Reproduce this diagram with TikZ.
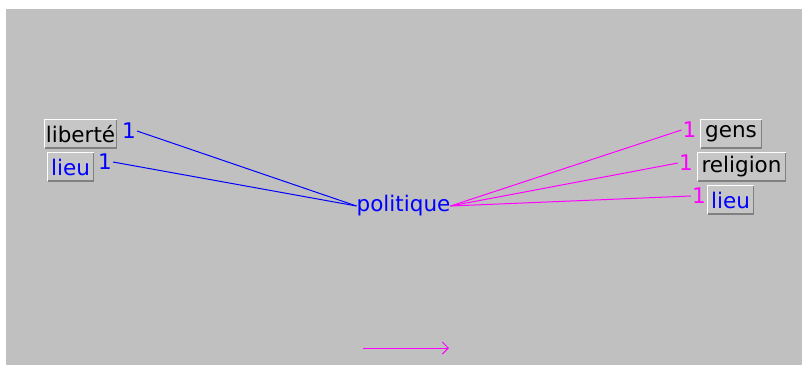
\documentclass[tikz,border=0pt]{standalone}
\usepackage{fontspec}
\setmainfont{DejaVu Sans}
\usetikzlibrary{arrows.meta}
\definecolor{panel}{HTML}{C0C0C0}
\definecolor{boxfill}{HTML}{C6C6C6}
\definecolor{edgedark}{HTML}{808080}
\definecolor{pblue}{HTML}{0000FF}
\definecolor{pmag}{HTML}{FF00FF}
\begin{document}
\begin{tikzpicture}[x=1pt,y=-1pt,
  every node/.style={font=\fontsize{21.5}{24}\selectfont},
  word/.style={fill=boxfill,inner sep=0pt,minimum height=29pt},
  count/.style={inner sep=1pt},
  link/.style={line width=1pt}]
  \useasboundingbox (0,0) rectangle (802,365);
  \fill[panel] (6,9) rectangle (802,365);

  % central term
  \node[inner sep=0pt,text=pblue] (pol) at (403.5,206) {politique};

  % left-hand associations
  \node[word,minimum width=73pt] (liberte) at (80.5,134) {liberté};
  \node[word,minimum width=47pt,text=pblue] (lieuL) at (70.5,167) {lieu};
  \node[count,text=pblue] (nLib) at (129,131) {1};
  \node[count,text=pblue] (nLieuL) at (105,162) {1};

  % right-hand associations
  \node[word,minimum width=62pt] (gens) at (731,134) {gens};
  \node[word,minimum width=89pt] (religion) at (741.5,167) {religion};
  \node[word,minimum width=47pt,text=pblue] (lieuR) at (730.5,200) {lieu};
  \node[count,text=pmag] (nGens) at (689.5,130) {1};
  \node[count,text=pmag] (nRel) at (686,163) {1};
  \node[count,text=pmag] (nLieuR) at (699,196) {1};

  % bevelled edges of the word boxes
  \foreach \b in {liberte,lieuL,gens,religion,lieuR}{
    \draw[white,line width=1pt] ([shift={(0.5,-0.5)}]\b.south west) |- ([shift={(-0.5,0.5)}]\b.north east);
    \draw[edgedark,line width=1.5pt] ([shift={(0.75,-0.75)}]\b.south west) -| ([shift={(-0.75,0.75)}]\b.north east);
  }

  % connectors
  \draw[link,pblue] (nLib.east) -- (pol.west);
  \draw[link,pblue] (nLieuL.east) -- (pol.west);
  \draw[link,pmag] (pol.east) -- (nGens.west);
  \draw[link,pmag] (pol.east) -- (nRel.west);
  \draw[link,pmag] (pol.east) -- (nLieuR.west);

  % direction arrow
  \coordinate (arrS) at (363,348);
  \coordinate (arrE) at (449,348);
  \draw[link,pmag,-{Straight Barb[length=6pt,width=12pt]}] (arrS) -- (arrE);
\end{tikzpicture}
\end{document}
